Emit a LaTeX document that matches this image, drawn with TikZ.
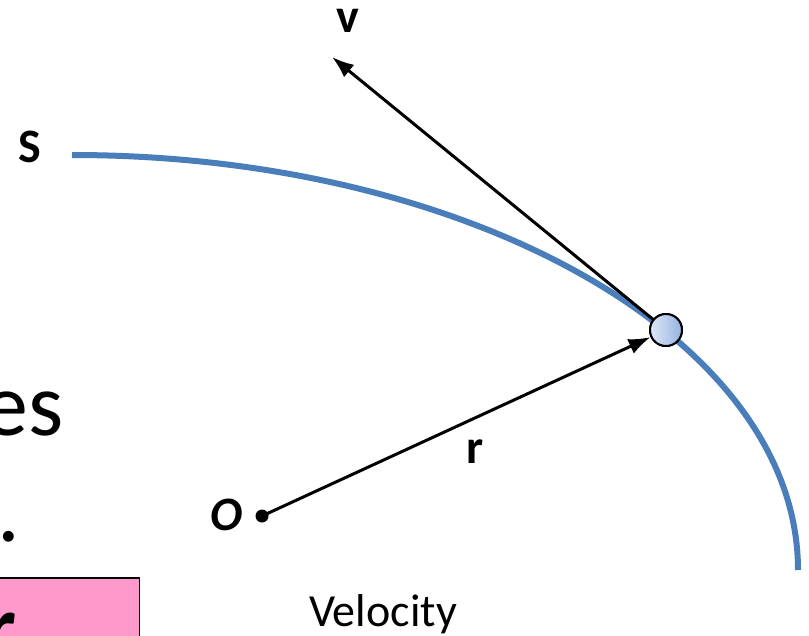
\documentclass[tikz,border=0pt]{standalone}
\usepackage{fontspec}
\setmainfont{Carlito}
\usetikzlibrary{arrows.meta}
\definecolor{curveblue}{RGB}{74,126,187}
\definecolor{boxpink}{RGB}{255,153,204}
\definecolor{plight}{RGB}{222,232,247}
\definecolor{pdark}{RGB}{150,178,224}
\tikzset{
  lbl/.style={font=\fontsize{48}{52}\selectfont\bfseries, inner sep=0pt},
  big/.style={font=\fontsize{90}{100}\selectfont, inner sep=0pt},
  vec/.style={line width=3pt, -{Latex[length=22pt,width=16pt]}},
  particle/.style={circle, draw=black, line width=2pt, minimum size=32pt, inner sep=0pt, left color=plight, right color=pdark},
}
\begin{document}
\begin{tikzpicture}[x=1pt,y=-1pt]
\useasboundingbox (0,0) rectangle (809,635);
% background text fragments
\node[big, anchor=base east] (es) at (64,435) {es};
\node[big, anchor=base east] (dot) at (20,541) {.};
\node[draw=black, line width=1.5pt, fill=boxpink, minimum width=150pt, minimum height=70pt, anchor=north east, inner sep=0pt] (box) at (140,577) {};
\node[font=\fontsize{90}{100}\selectfont\bfseries, inner sep=0pt, anchor=base east] (rr) at (17,657) {r};
% path
\draw[curveblue, line width=6pt] (72,155) arc[start angle=90, end angle=0, x radius=726pt, y radius=415pt];
\node[lbl] (S) at (30,147) {S};
% particle and vectors
\node[particle] (p) at (666,330) {};
\fill (262,516) circle (6.5pt);
\coordinate (o) at (262,516);
\coordinate (vtip) at (332,57);
\draw[vec] (o) -- (p);
\draw[vec] (p) -- (vtip);
\node[particle] at (666,330) {};
\node[font=\fontsize{48}{52}\selectfont\bfseries\itshape, inner sep=0pt] (O) at (227,515) {O};
\node[lbl] (r) at (475,452) {r};
\node[lbl] (v) at (348,21) {v};
\node[font=\fontsize{46}{50}\selectfont, inner sep=0pt, anchor=base] (vel) at (383,626) {Velocity};
\end{tikzpicture}
\end{document}
